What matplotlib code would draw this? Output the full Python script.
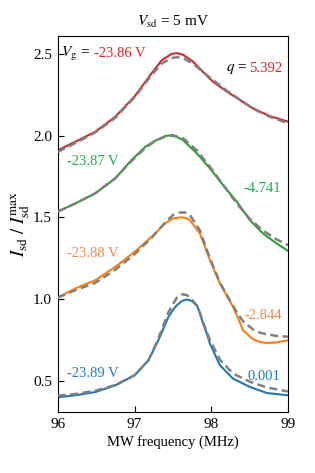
import numpy as np
import matplotlib
matplotlib.use("Agg")
import matplotlib.pyplot as plt

plt.rcParams['font.family'] = ['Liberation Serif', 'DejaVu Serif']
plt.rcParams['mathtext.fontset'] = 'stix'
plt.rcParams['font.size'] = 10

# MW frequency (MHz) and normalised current
red_x = [96.0, 96.23, 96.49, 96.75, 97.0, 97.22, 97.35, 97.48, 97.55, 97.63,
         97.76, 97.89, 98.02, 98.2, 98.37, 98.54, 98.76, 99.0]
red_y = [1.91, 1.963, 2.024, 2.116, 2.24, 2.38, 2.46, 2.50, 2.505, 2.495,
         2.453, 2.39, 2.33, 2.27, 2.218, 2.167, 2.12, 2.085]
red_fit = [1.90, 1.955, 2.02, 2.11, 2.235, 2.37, 2.44, 2.475, 2.48, 2.475,
           2.44, 2.39, 2.34, 2.275, 2.22, 2.165, 2.115, 2.075]

green_x = [96.0, 96.23, 96.49, 96.75, 96.96, 97.14, 97.27, 97.4, 97.5, 97.63,
           97.81, 97.98, 98.15, 98.33, 98.5, 98.67, 98.85, 99.0]
green_y = [1.535, 1.586, 1.647, 1.739, 1.851, 1.932, 1.97, 1.998, 2.004, 1.973,
           1.892, 1.80, 1.698, 1.596, 1.483, 1.402, 1.34, 1.294]
green_fit = [1.535, 1.585, 1.648, 1.74, 1.845, 1.925, 1.968, 1.995, 2.0, 1.985,
             1.91, 1.81, 1.70, 1.585, 1.49, 1.42, 1.365, 1.33]

orange_x = [96.0, 96.23, 96.49, 96.75, 97.0, 97.22, 97.4, 97.5, 97.59, 97.66,
            97.72, 97.85, 97.98, 98.11, 98.28, 98.33, 98.41, 98.54, 98.63,
            98.72, 98.85, 99.0]
orange_y = [1.01, 1.065, 1.116, 1.198, 1.289, 1.381, 1.463, 1.494, 1.50, 1.498,
            1.483, 1.402, 1.239, 1.096, 0.953, 0.902, 0.81, 0.755, 0.738,
            0.732, 0.736, 0.749]
orange_fit = [1.01, 1.055, 1.10, 1.18, 1.275, 1.375, 1.47, 1.515, 1.53, 1.53,
              1.515, 1.42, 1.25, 1.10, 0.96, 0.92, 0.865, 0.815, 0.795,
              0.785, 0.775, 0.77]

blue_x = [96.0, 96.23, 96.49, 96.75, 97.0, 97.18, 97.31, 97.44, 97.5, 97.55,
          97.62, 97.68, 97.74, 97.81, 97.85, 97.89, 97.94, 97.98, 98.11,
          98.28, 98.5, 98.72, 99.0]
blue_y = [0.40, 0.412, 0.432, 0.473, 0.534, 0.626, 0.749, 0.891, 0.935, 0.963,
          0.99, 0.998, 0.99, 0.963, 0.915, 0.851, 0.79, 0.728, 0.596,
          0.514, 0.463, 0.426, 0.412]
blue_fit = [0.41, 0.42, 0.44, 0.475, 0.535, 0.625, 0.76, 0.92, 0.97, 1.01,
            1.03, 1.025, 1.0, 0.96, 0.915, 0.86, 0.8, 0.75, 0.63,
            0.545, 0.495, 0.46, 0.435]

gate_labels = ['-23.86 V', '-23.87 V', '-23.88 V', '-23.89 V']
q_labels = ['5.392', '-4.741', '-2.844', '0.001']

line_colors = ['#d62728', '#2ca02c', '#ff7f0e', '#1f77b4']
text_colors = ['#ee1c25', '#1aae4a', '#f4874b', '#1c7ccf']

fig = plt.figure(figsize=(3.15, 4.73), dpi=100)
ax = fig.add_axes([0.183, 0.129, 0.7325, 0.795])

curves = [(red_x, red_y, red_fit), (green_x, green_y, green_fit),
          (orange_x, orange_y, orange_fit), (blue_x, blue_y, blue_fit)]
for (x, y, f), c in zip(curves, line_colors):
    ax.plot(x, y, color=c, lw=1.5, zorder=2)
    ax.plot(x, f, color='gray', lw=1.8, ls=(0, (3.2, 1.8)), zorder=3)

# gate voltage labels (left) and q labels (right)
ax.text(96.05, 2.5, r'$V_\mathrm{g}$ =', ha='left', va='center', fontsize=11)
gate_pos = [(96.47, 2.5), (96.12, 1.84), (96.12, 1.28), (96.12, 0.545)]
for (gx, gy), s, c in zip(gate_pos, gate_labels, text_colors):
    ax.text(gx, gy, s, ha='left', va='center', color=c, fontsize=10.5)

ax.text(98.46, 2.41, r'$q$ =', ha='right', va='center', fontsize=11)
q_pos = [(98.92, 2.41), (98.9, 1.677), (98.92, 0.90), (98.9, 0.528)]
for (qx, qy), s, c in zip(q_pos, q_labels, text_colors):
    ax.text(qx, qy, s, ha='right', va='center', color=c, fontsize=10.5)

ax.set_xlim(96, 99)
ax.set_ylim(0.31, 2.61)
ax.set_xticks([96, 97, 98, 99])
ax.set_yticks([0.5, 1.0, 1.5, 2.0, 2.5])
ax.tick_params(direction='in', length=4, labelsize=11, pad=4)
ax.set_xlabel('MW frequency (MHz)', fontsize=10.5, labelpad=3)
ax.set_ylabel(r'$I_\mathrm{sd}\ /\ I_\mathrm{sd}^\mathrm{max}$', fontsize=13.5,
              labelpad=1)
ax.set_title(r'$V_\mathrm{sd}$ = 5 mV', fontsize=11, pad=7)

fig.savefig('out.png', dpi=100)
